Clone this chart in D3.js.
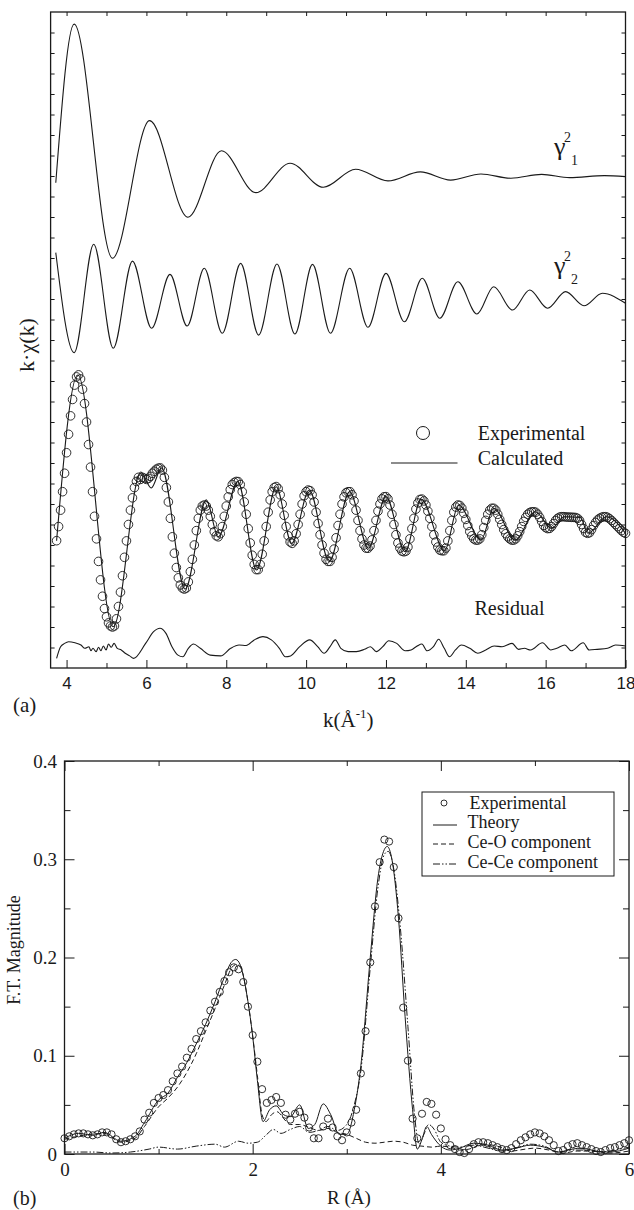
<!DOCTYPE html>
<html>
<head>
<meta charset="utf-8">
<script src="https://cdn.jsdelivr.net/npm/d3@7"></script>
<style>
  html, body { margin: 0; padding: 0; background: #fff; }
  svg { display: block; }
</style>
</head>
<body>
<svg id="fig" width="634" height="1210"></svg>
<script>
// ---------- Panel (a): k-weighted EXAFS, curves offset vertically ----------
// Vertical offsets (in axis units) of the stacked curves
const OFFSET_G1 = 24, OFFSET_G2 = 18, OFFSET_FIT = 7, OFFSET_RES = 1;

// gamma^2_1 path (extrema)
const g1K = [3.73, 4.19, 5.15, 6.08, 7.04, 7.88, 8.74, 9.6, 10.43, 11.24, 12.05, 12.86, 13.62, 14.38, 15.13, 15.9, 16.6, 17.47, 18.0];
const g1V = [-0.33, 7.41, -4.01, 2.70, -2.01, 1.23, -0.81, 0.62, -0.55, 0.33, -0.24, 0.2, -0.2, 0.1, -0.11, 0.08, -0.08, 0.02, -0.03];

// gamma^2_2 path (extrema)
const g2K = [3.73, 4.19, 4.68, 5.17, 5.65, 6.13, 6.59, 7.02, 7.45, 7.90, 8.36, 8.81, 9.27, 9.72, 10.16, 10.61, 11.09, 11.55, 12.0, 12.46, 12.91, 13.35, 13.8, 14.28, 14.7, 15.17, 15.6, 16.05, 16.5, 16.96, 17.42, 18.0];
const g2V = [2.26, -2.62, 2.67, -2.40, 1.85, -1.43, 1.20, -1.32, 1.50, -1.67, 1.74, -1.76, 1.71, -1.71, 1.69, -1.67, 1.50, -1.38, 1.25, -1.11, 1.01, -0.94, 0.84, -0.73, 0.60, -0.54, 0.44, -0.45, 0.36, -0.33, 0.28, -0.21];

// Experimental k*chi(k), sampled every 0.05 from k = 3.75
const EXP_K0 = 3.75, EXP_DK = 0.05;
const expVal = [
  -0.79, -0.1, 0.7, 1.6, 2.5, 3.5, 4.4, 5.3, 6.1, 6.8, 7.2, 7.3, 7.1, 6.6, 5.9, 5.0, 3.9, 2.8, 1.6, 0.4,
  -0.7, -1.8, -2.7, -3.5, -4.1, -4.5, -4.8, -4.95, -5.0, -4.95, -4.6, -4.0, -3.3, -2.5, -1.6, -0.8, 0.0, 0.7, 1.3, 1.8,
  2.1, 2.3, 2.2, 2.3, 2.25, 2.2, 2.25, 2.35, 2.5, 2.6, 2.7, 2.75, 2.76, 2.65, 2.3, 1.8, 1.1, 0.3, -0.6, -1.4,
  -2.1, -2.6, -2.95, -3.1, -3.15, -3.1, -2.8, -2.3, -1.7, -1.0, -0.3, 0.3, 0.7, 0.9, 0.95, 0.9, 0.7, 0.4, 0.0, -0.35,
  -0.55, -0.6, -0.45, -0.1, 0.4, 0.9, 1.35, 1.7, 1.95, 2.05, 2.1, 2.09, 1.95, 1.6, 1.1, 0.5, -0.2, -0.9, -1.5, -1.95,
  -2.2, -2.2, -1.95, -1.45, -0.8, -0.1, 0.6, 1.2, 1.6, 1.8, 1.85, 1.75, 1.45, 1.0, 0.45, -0.1, -0.55, -0.85, -0.92, -0.8,
  -0.45, 0.0, 0.5, 1.0, 1.4, 1.6, 1.68, 1.65, 1.45, 1.1, 0.6, 0.05, -0.5, -1.0, -1.4, -1.7, -1.8, -1.8, -1.6, -1.2,
  -0.65, -0.05, 0.5, 1.0, 1.35, 1.55, 1.6, 1.6, 1.45, 1.15, 0.7, 0.2, -0.3, -0.7, -1.0, -1.15, -1.16, -1.05, -0.75, -0.3,
  0.2, 0.65, 1.0, 1.25, 1.35, 1.36, 1.25, 0.95, 0.5, 0.0, -0.5, -0.9, -1.15, -1.3, -1.33, -1.3, -1.1, -0.7, -0.2, 0.3,
  0.75, 1.05, 1.22, 1.24, 1.15, 0.95, 0.65, 0.3, -0.1, -0.5, -0.85, -1.1, -1.25, -1.28, -1.28, -1.15, -0.8, -0.3, 0.2, 0.6,
  0.85, 0.95, 0.93, 0.8, 0.55, 0.25, -0.05, -0.35, -0.55, -0.7, -0.76, -0.76, -0.7, -0.5, -0.15, 0.2, 0.5, 0.7, 0.79, 0.79,
  0.7, 0.5, 0.25, 0.0, -0.25, -0.45, -0.6, -0.7, -0.76, -0.76, -0.7, -0.55, -0.35, -0.1, 0.15, 0.35, 0.5, 0.58, 0.62, 0.62,
  0.6, 0.5, 0.35, 0.15, -0.05, -0.15, -0.2, -0.19, -0.1, 0.05, 0.2, 0.3, 0.36, 0.38, 0.38, 0.37, 0.36, 0.36, 0.35, 0.35,
  0.34, 0.3, 0.2, 0.0, -0.2, -0.38, -0.43, -0.4, -0.25, -0.05, 0.1, 0.22, 0.3, 0.35, 0.38, 0.38, 0.35, 0.28, 0.2, 0.1,
  0.0, -0.1, -0.2, -0.3, -0.38, -0.43
];

// Calculated fit (extrema)
const calcK = [3.75, 4.28, 5.17, 5.86, 6.12, 6.38, 6.97, 7.5, 7.8, 8.29, 8.76, 9.25, 9.64, 10.08, 10.58, 11.09, 11.56, 12.0, 12.48, 12.88, 13.47, 13.82, 14.38, 14.7, 15.24, 15.74, 16.15, 16.46, 16.87, 17.06, 17.52, 18.0];
const calcV = [-0.79, 7.29, -4.99, 2.56, 1.78, 2.76, -3.15, 1.2, -0.6, 2.09, -2.22, 1.84, -0.92, 1.68, -1.81, 1.6, -1.16, 1.36, -1.33, 1.24, -1.28, 0.95, -0.76, 0.79, -0.76, 0.62, -0.19, 0.38, 0.34, -0.43, 0.38, -0.43];

// Residual (experimental - calculated)
const resK = [3.75, 3.85, 3.95, 4.05, 4.21, 4.36, 4.46, 4.56, 4.61, 4.66, 4.74, 4.80, 4.86, 4.92, 4.99, 5.05, 5.12, 5.19, 5.27, 5.37, 5.47, 5.58, 5.68, 5.98, 6.18, 6.34, 6.49, 6.64, 6.79, 6.91, 7.05, 7.18, 7.35, 7.60, 7.86, 8.11, 8.32, 8.50, 8.70, 8.92, 9.13, 9.33, 9.48, 9.61, 9.84, 10.09, 10.29, 10.45, 10.60, 10.73, 10.87, 11.05, 11.26, 11.46, 11.61, 11.76, 11.92, 12.07, 12.27, 12.48, 12.63, 12.78, 12.90, 13.03, 13.19, 13.32, 13.46, 13.59, 13.74, 13.89, 14.10, 14.30, 14.50, 14.71, 14.91, 15.16, 15.32, 15.47, 15.62, 15.92, 16.13, 16.28, 16.48, 16.64, 16.94, 17.09, 17.29, 17.55, 17.75, 18.0];
const resV = [-0.53, 0.04, 0.2, 0.28, 0.23, 0.12, -0.04, 0.04, -0.16, -0.04, -0.2, 0.01, -0.16, 0.07, -0.12, 0.17, 0.01, 0.2, -0.04, -0.12, -0.28, -0.41, -0.53, 0.2, 0.77, 0.94, 0.69, 0.04, -0.37, -0.45, -0.04, 0.17, -0.04, -0.37, -0.41, -0.04, 0.12, 0.1, 0.37, 0.53, 0.37, -0.04, -0.45, -0.41, 0.04, 0.37, 0.04, -0.28, 0.04, 0.37, -0.04, -0.2, -0.2, -0.09, 0.04, -0.2, 0.04, 0.33, 0.2, -0.16, -0.12, 0.07, 0.17, -0.16, 0.04, 0.4, -0.04, -0.45, -0.12, 0.12, -0.04, -0.28, -0.12, 0.07, 0.04, 0.2, -0.09, -0.04, -0.12, 0.23, -0.12, -0.04, 0.12, -0.16, 0.23, -0.12, -0.09, -0.04, 0.12, 0.07];

const kMajorTicks = [4, 6, 8, 10, 12, 14, 16, 18];
const kMinorTicks = [5, 7, 9, 11, 13, 15, 17];

// ---------- Panel (b): Fourier transform magnitude ----------
const FT_R0 = 0, FT_DR = 0.05;
const ftExp = [
  0.016, 0.018, 0.020, 0.021, 0.021, 0.020, 0.019, 0.020, 0.022, 0.022, 0.020, 0.015, 0.012, 0.013, 0.015, 0.018, 0.023, 0.035, 0.042, 0.052,
  0.057, 0.060, 0.065, 0.074, 0.082, 0.089, 0.098, 0.107, 0.117, 0.125, 0.134, 0.146, 0.155, 0.165, 0.176, 0.185, 0.190, 0.188, 0.175, 0.150,
  0.121, 0.094, 0.066, 0.052, 0.055, 0.058, 0.052, 0.040, 0.035, 0.041, 0.043, 0.037, 0.027, 0.016, 0.016, 0.028, 0.036, 0.027, 0.018, 0.014,
  0.022, 0.032, 0.045, 0.082, 0.125, 0.195, 0.252, 0.297, 0.320, 0.318, 0.292, 0.240, 0.149, 0.095, 0.036, 0.016, 0.041, 0.053, 0.051, 0.040,
  0.026, 0.015, 0.009, 0.005, 0.002, 0.001, 0.005, 0.010, 0.012, 0.012, 0.011, 0.009, 0.007, 0.005, 0.004, 0.006, 0.010, 0.014, 0.017, 0.020,
  0.022, 0.021, 0.018, 0.014, 0.009, 0.003, 0.004, 0.008, 0.010, 0.011, 0.009, 0.007, 0.005, 0.003, 0.002, 0.004, 0.006, 0.007, 0.009, 0.011,
  0.014
];

const theoryR = [0, 0.15, 0.3, 0.42, 0.6, 0.75, 0.85, 1.0, 1.1, 1.2, 1.3, 1.4, 1.5, 1.6, 1.7, 1.78, 1.82, 1.87, 1.95, 2.0, 2.05, 2.11, 2.18, 2.25, 2.33, 2.4, 2.5, 2.59, 2.66, 2.75, 2.83, 2.92, 3.0, 3.08, 3.15, 3.25, 3.33, 3.4, 3.43, 3.48, 3.55, 3.62, 3.7, 3.75, 3.8, 3.85, 3.9, 4.0, 4.1, 4.2, 4.35, 4.5, 4.65, 4.8, 4.95, 5.1, 5.25, 5.4, 5.5, 5.65, 5.8, 6.0];
const theoryV = [0.016, 0.021, 0.019, 0.022, 0.013, 0.018, 0.032, 0.055, 0.062, 0.078, 0.093, 0.112, 0.132, 0.155, 0.18, 0.196, 0.198, 0.192, 0.155, 0.12, 0.075, 0.033, 0.045, 0.049, 0.04, 0.038, 0.05, 0.026, 0.03, 0.051, 0.04, 0.02, 0.02, 0.045, 0.09, 0.2, 0.28, 0.31, 0.313, 0.3, 0.24, 0.14, 0.045, 0.005, 0.015, 0.028, 0.02, 0.008, 0.004, 0.006, 0.011, 0.009, 0.004, 0.006, 0.009, 0.007, 0.002, 0.005, 0.006, 0.003, 0.002, 0.006];

const ceoR = [0, 0.2, 0.42, 0.6, 0.75, 0.85, 1.0, 1.1, 1.2, 1.3, 1.4, 1.5, 1.6, 1.7, 1.78, 1.83, 1.88, 1.95, 2.0, 2.05, 2.1, 2.14, 2.2, 2.26, 2.33, 2.4, 2.5, 2.6, 2.7, 2.8, 2.9, 3.0, 3.1, 3.2, 3.3, 3.4, 3.5, 3.6, 3.7, 3.8, 3.9, 4.0, 4.1, 4.2, 4.3, 4.45, 4.6, 4.75, 4.9, 5.0, 5.15, 5.3, 5.45, 5.6, 5.8, 6.0];
const ceoV = [0.015, 0.019, 0.021, 0.012, 0.016, 0.028, 0.048, 0.057, 0.068, 0.083, 0.102, 0.125, 0.148, 0.172, 0.19, 0.193, 0.188, 0.155, 0.12, 0.08, 0.04, 0.033, 0.04, 0.043, 0.036, 0.03, 0.03, 0.027, 0.024, 0.026, 0.022, 0.02, 0.016, 0.012, 0.011, 0.012, 0.013, 0.012, 0.009, 0.008, 0.007, 0.008, 0.007, 0.004, 0.005, 0.01, 0.008, 0.003, 0.005, 0.006, 0.004, 0.001, 0.003, 0.003, 0.001, 0.003];

const cecR = [0, 0.3, 0.5, 0.7, 0.9, 1.0, 1.2, 1.4, 1.6, 1.7, 1.85, 1.95, 2.05, 2.15, 2.22, 2.3, 2.4, 2.5, 2.6, 2.7, 2.8, 2.9, 3.0, 3.08, 3.15, 3.25, 3.33, 3.4, 3.44, 3.5, 3.57, 3.65, 3.72, 3.77, 3.82, 3.87, 3.93, 4.0, 4.1, 4.2, 4.35, 4.5, 4.65, 4.8, 4.95, 5.1, 5.25, 5.4, 5.55, 5.7, 5.85, 6.0];
const cecV = [0.002, 0.002, 0.001, 0.002, 0.005, 0.007, 0.005, 0.008, 0.01, 0.007, 0.013, 0.011, 0.012, 0.02, 0.025, 0.021, 0.025, 0.028, 0.022, 0.024, 0.028, 0.024, 0.03, 0.05, 0.085, 0.19, 0.27, 0.305, 0.308, 0.29, 0.23, 0.13, 0.04, 0.01, 0.02, 0.03, 0.025, 0.012, 0.008, 0.007, 0.009, 0.006, 0.003, 0.006, 0.01, 0.008, 0.002, 0.004, 0.004, 0.002, 0.004, 0.007];

const rMajorTicks = [0, 2, 4, 6];
const rMinorTicks = [1, 3, 5];
const ftMajorTicks = [0, 0.1, 0.2, 0.3, 0.4];
const ftMinorTicks = [0.05, 0.15, 0.25, 0.35];
const legendLabels = ["Experimental", "Theory", "Ce-O component", "Ce-Ce component"];

// ---------- drawing ----------
const SERIF = "'Liberation Serif', 'Times New Roman', Times, serif";
const SANS = "'Liberation Sans', Arial, Helvetica, sans-serif";
const INK = "#1a1a1a";
const svg = d3.select("#fig");
const zip = (a, b) => a.map((v, i) => [v, b[i]]);

function styleAxis(g) {
  g.select(".domain").remove();
  g.selectAll(".tick line").attr("stroke", INK).attr("stroke-width", 1);
}

// ===== Panel (a) =====
const A = { left: 50.6, right: 625.5, top: 12, bottom: 668 };
const xK = d3.scaleLinear().domain([3.6, 18]).range([A.left, A.right]);
const yA = d3.scaleLinear().domain([0, 32]).range([A.bottom, A.top]);
const gA = svg.append("g");

const lineA = off => d3.line()
  .x(d => xK(d[0]))
  .y(d => yA(d[1] + off))
  .curve(d3.curveMonotoneX);

// bottom axis with labels
gA.append("g").attr("transform", `translate(0,${A.bottom})`)
  .call(d3.axisBottom(xK).tickValues(kMajorTicks).tickSize(-8).tickPadding(9).tickFormat(d3.format("d")))
  .call(styleAxis)
  .call(g => g.selectAll("text").attr("font-family", SANS).attr("font-size", 17).attr("fill", INK));
gA.append("g").attr("transform", `translate(0,${A.bottom})`)
  .call(d3.axisBottom(xK).tickValues(kMinorTicks).tickSize(-5).tickFormat(""))
  .call(styleAxis);
gA.append("g").attr("transform", `translate(0,${A.top})`)
  .call(d3.axisTop(xK).tickValues(d3.range(4, 18)).tickSize(-4).tickFormat(""))
  .call(styleAxis);
gA.append("g").attr("transform", `translate(${A.left},0)`)
  .call(d3.axisLeft(yA).tickValues(d3.range(1, 32)).tickSize(-4).tickFormat(""))
  .call(styleAxis);
gA.append("g").attr("transform", `translate(${A.right},0)`)
  .call(d3.axisRight(yA).tickValues(d3.range(1, 32)).tickSize(-4).tickFormat(""))
  .call(styleAxis);

gA.append("rect")
  .attr("x", A.left).attr("y", A.top)
  .attr("width", A.right - A.left).attr("height", A.bottom - A.top)
  .attr("fill", "none").attr("stroke", INK).attr("stroke-width", 1.3);

const curveStyle = sel => sel.attr("fill", "none").attr("stroke", INK).attr("stroke-width", 1.1);

gA.append("path").datum(zip(g1K, g1V)).attr("d", lineA(OFFSET_G1)).call(curveStyle);
gA.append("path").datum(zip(g2K, g2V)).attr("d", lineA(OFFSET_G2)).call(curveStyle);
gA.append("path").datum(zip(calcK, calcV)).attr("d", lineA(OFFSET_FIT)).call(curveStyle);
gA.append("path").datum(zip(resK, resV)).attr("d", lineA(OFFSET_RES)).call(curveStyle);

gA.append("g").selectAll("circle")
  .data(expVal.map((v, i) => [EXP_K0 + i * EXP_DK, v]))
  .join("circle")
  .attr("cx", d => xK(d[0]))
  .attr("cy", d => yA(d[1] + OFFSET_FIT))
  .attr("r", 4.3)
  .attr("fill", "none").attr("stroke", INK).attr("stroke-width", 0.9);

// curve labels
function gammaLabel(x, base, sub) {
  const g = gA.append("g").attr("font-family", SERIF).attr("fill", INK);
  g.append("text").attr("x", x).attr("y", base).attr("font-size", 26).text("\u03B3");
  g.append("text").attr("x", x + 10).attr("y", base - 13).attr("font-size", 14).text("2");
  g.append("text").attr("x", x + 17).attr("y", base + 10).attr("font-size", 14).text(sub);
}
gammaLabel(554, 155, "1");
gammaLabel(554, 274, "2");

// legend of panel (a)
gA.append("circle").attr("cx", 423).attr("cy", 433).attr("r", 6.5)
  .attr("fill", "none").attr("stroke", INK).attr("stroke-width", 1);
gA.append("text").attr("x", 477.7).attr("y", 440).attr("font-family", SERIF).attr("font-size", 20).attr("fill", INK).text("Experimental");
gA.append("line").attr("x1", 391).attr("x2", 457.5).attr("y1", 463).attr("y2", 463).attr("stroke", INK).attr("stroke-width", 1.1);
gA.append("text").attr("x", 477.7).attr("y", 465).attr("font-family", SERIF).attr("font-size", 20).attr("fill", INK).text("Calculated");
gA.append("text").attr("x", 474.5).attr("y", 615).attr("font-family", SERIF).attr("font-size", 20).attr("fill", INK).text("Residual");

// axis titles
gA.append("text")
  .attr("transform", "translate(34,345) rotate(-90)")
  .attr("text-anchor", "middle")
  .attr("font-family", SERIF).attr("font-size", 22).attr("fill", INK)
  .text("k\u00B7\u03C7(k)");
const kt = gA.append("text").attr("x", 323).attr("y", 727)
  .attr("font-family", SERIF).attr("font-size", 21).attr("fill", INK);
kt.append("tspan").text("k(\u00C5");
kt.append("tspan").attr("font-size", 13).attr("dy", -9).text("-1");
kt.append("tspan").attr("dy", 9).text(")");
gA.append("text").attr("x", 13).attr("y", 712).attr("font-family", SERIF).attr("font-size", 21).attr("fill", INK).text("(a)");

// ===== Panel (b) =====
const B = { left: 64.5, right: 629, top: 761, bottom: 1154 };
const xR = d3.scaleLinear().domain([0, 6]).range([B.left, B.right]);
const yF = d3.scaleLinear().domain([0, 0.4]).range([B.bottom, B.top]);
const gB = svg.append("g");

gB.append("g").attr("transform", `translate(0,${B.bottom})`)
  .call(d3.axisBottom(xR).tickValues(rMajorTicks).tickSize(-10).tickPadding(9).tickFormat(d3.format("d")))
  .call(styleAxis)
  .call(g => g.selectAll("text").attr("font-family", SERIF).attr("font-size", 19).attr("fill", INK));
gB.append("g").attr("transform", `translate(0,${B.bottom})`)
  .call(d3.axisBottom(xR).tickValues(rMinorTicks).tickSize(-5).tickFormat(""))
  .call(styleAxis);
gB.append("g").attr("transform", `translate(0,${B.top})`)
  .call(d3.axisTop(xR).tickValues(rMajorTicks).tickSize(-10).tickFormat(""))
  .call(styleAxis);
gB.append("g").attr("transform", `translate(0,${B.top})`)
  .call(d3.axisTop(xR).tickValues(rMinorTicks).tickSize(-5).tickFormat(""))
  .call(styleAxis);
gB.append("g").attr("transform", `translate(${B.left},0)`)
  .call(d3.axisLeft(yF).tickValues(ftMajorTicks).tickSize(-10).tickPadding(7.5)
    .tickFormat(d => d === 0 ? "0" : d3.format(".1f")(d)))
  .call(styleAxis)
  .call(g => g.selectAll("text").attr("font-family", SERIF).attr("font-size", 19).attr("fill", INK));
gB.append("g").attr("transform", `translate(${B.left},0)`)
  .call(d3.axisLeft(yF).tickValues(ftMinorTicks).tickSize(-6).tickFormat(""))
  .call(styleAxis);
gB.append("g").attr("transform", `translate(${B.right},0)`)
  .call(d3.axisRight(yF).tickValues(ftMajorTicks).tickSize(-10).tickFormat(""))
  .call(styleAxis);
gB.append("g").attr("transform", `translate(${B.right},0)`)
  .call(d3.axisRight(yF).tickValues(ftMinorTicks).tickSize(-6).tickFormat(""))
  .call(styleAxis);

gB.append("rect")
  .attr("x", B.left).attr("y", B.top)
  .attr("width", B.right - B.left).attr("height", B.bottom - B.top)
  .attr("fill", "none").attr("stroke", INK).attr("stroke-width", 1.3);

const lineB = d3.line().x(d => xR(d[0])).y(d => yF(d[1])).curve(d3.curveMonotoneX);
const DASH_CEO = "5,3";
const DASH_CEC = "7,2,1.5,2,1.5,2";

gB.append("path").datum(zip(cecR, cecV)).attr("d", lineB)
  .attr("fill", "none").attr("stroke", INK).attr("stroke-width", 1).attr("stroke-dasharray", DASH_CEC);
gB.append("path").datum(zip(ceoR, ceoV)).attr("d", lineB)
  .attr("fill", "none").attr("stroke", INK).attr("stroke-width", 1).attr("stroke-dasharray", DASH_CEO);
gB.append("path").datum(zip(theoryR, theoryV)).attr("d", lineB)
  .attr("fill", "none").attr("stroke", INK).attr("stroke-width", 1);

gB.append("g").selectAll("circle")
  .data(ftExp.map((v, i) => [FT_R0 + i * FT_DR, v]))
  .join("circle")
  .attr("cx", d => xR(d[0]))
  .attr("cy", d => yF(d[1]))
  .attr("r", 3.6)
  .attr("fill", "none").attr("stroke", INK).attr("stroke-width", 0.9);

// legend of panel (b)
const lg = gB.append("g");
lg.append("rect").attr("x", 422).attr("y", 792).attr("width", 192).attr("height", 84)
  .attr("fill", "#fff").attr("stroke", INK).attr("stroke-width", 1);
const rowY = [803, 822, 842, 862];
lg.append("circle").attr("cx", 444).attr("cy", rowY[0]).attr("r", 3)
  .attr("fill", "none").attr("stroke", INK).attr("stroke-width", 0.9);
lg.append("line").attr("x1", 433).attr("x2", 457).attr("y1", rowY[1] + 3).attr("y2", rowY[1] + 3)
  .attr("stroke", INK).attr("stroke-width", 1);
lg.append("line").attr("x1", 433).attr("x2", 457).attr("y1", rowY[2] + 2).attr("y2", rowY[2] + 2)
  .attr("stroke", INK).attr("stroke-width", 1).attr("stroke-dasharray", DASH_CEO);
lg.append("line").attr("x1", 433).attr("x2", 457).attr("y1", rowY[3] + 2).attr("y2", rowY[3] + 2)
  .attr("stroke", INK).attr("stroke-width", 1).attr("stroke-dasharray", DASH_CEC);
lg.selectAll("text.lab").data(legendLabels).join("text")
  .attr("class", "lab")
  .attr("x", (d, i) => i === 0 ? 469.6 : 467.6)
  .attr("y", (d, i) => rowY[i] + 6)
  .attr("font-family", SERIF).attr("font-size", 18).attr("fill", INK)
  .text(d => d);

// axis titles
gB.append("text")
  .attr("transform", "translate(20,950) rotate(-90)")
  .attr("text-anchor", "middle")
  .attr("font-family", SERIF).attr("font-size", 18).attr("fill", INK)
  .text("F.T. Magnitude");
gB.append("text").attr("x", 349).attr("y", 1204).attr("text-anchor", "middle")
  .attr("font-family", SERIF).attr("font-size", 19).attr("fill", INK).text("R (\u00C5)");
gB.append("text").attr("x", 13).attr("y", 1205).attr("font-family", SERIF).attr("font-size", 20).attr("fill", INK).text("(b)");
</script>
</body>
</html>
